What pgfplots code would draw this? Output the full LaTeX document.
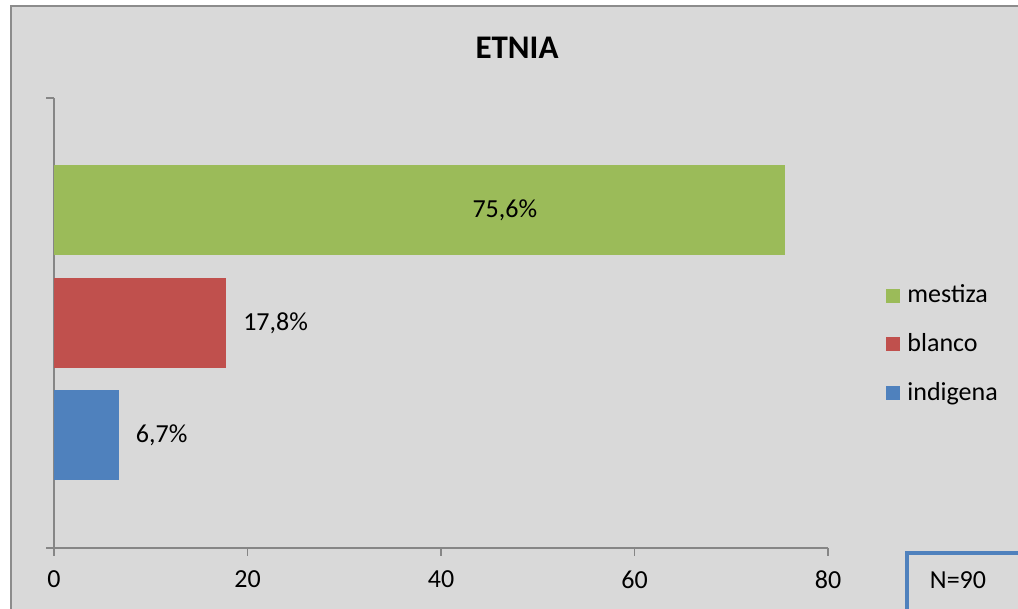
\documentclass[border=0pt]{standalone}
\usepackage{pgfplots}
\pgfplotsset{compat=1.18}
\usepackage{fontspec}
\setmainfont{Carlito}
\definecolor{bg}{HTML}{D9D9D9}
\definecolor{frame}{HTML}{8C8C8C}
\definecolor{axiscol}{HTML}{868686}
\definecolor{mestiza}{HTML}{9BBB59}
\definecolor{blanco}{HTML}{C0504D}
\definecolor{indigena}{HTML}{4F81BD}
\begin{document}
\fontsize{13pt}{15.6pt}\selectfont
% 1 unit = 1 px of the 1018x609 reference, y measured from the bottom
\begin{tikzpicture}[x=0.5pt,y=0.5pt]
\useasboundingbox (0,0) rectangle (1018,609);
\fill[white] (0,0) rectangle (1018,609);
\fill[bg] (11,0) rectangle (1018,603);
\draw[frame, line width=0.8pt] (11,-5) -- (11,603) -- (1025,603);
\node[font=\fontsize{16.5pt}{19pt}\selectfont\bfseries] at (517,561) {ETNIA};
\begin{axis}[
    at={(27pt,30.5pt)}, anchor=south west,
    scale only axis, width=387pt, height=225pt,
    xmin=0, xmax=80, ymin=0, ymax=4,
    axis lines*=left,
    axis line style={-, axiscol, line width=0.8pt},
    tick style={axiscol, line width=0.8pt},
    tick align=outside, major tick length=4pt,
    xtick={0,20,40,60,80},
    ytick={0,4}, yticklabels={},
    /pgf/number format/assume math mode=true,
    xticklabel style={yshift=-3pt},
    xbar, bar width=45pt,
    legend cell align=left,
    legend style={at={(1.075,0.595)}, anchor=north west, draw=none, fill=none,
        inner sep=0pt, row sep=9.5pt,
        nodes={inner sep=2pt}},
    legend image code/.code={\fill[#1] (0pt,-3.5pt) rectangle (7pt,3.5pt);},
    point meta=x,
    every node near coord/.append style={black, xshift=4pt},
]
\addplot[xbar, bar shift=0pt, fill=mestiza, draw=none] coordinates {(75.6,3)};
\addlegendentry{\hspace{1.5pt}mestiza}
\addplot[xbar, bar shift=0pt, fill=blanco, draw=none,
    nodes near coords={\pgfmathprintnumber[fixed,fixed zerofill,precision=1,use comma,assume math mode=true]{\pgfplotspointmeta}\%}]
    coordinates {(17.8,2)};
\addlegendentry{\hspace{1.5pt}blanco}
\addplot[xbar, bar shift=0pt, fill=indigena, draw=none,
    nodes near coords={\pgfmathprintnumber[fixed,fixed zerofill,precision=1,use comma,assume math mode=true]{\pgfplotspointmeta}\%}]
    coordinates {(6.7,1)};
\addlegendentry{\hspace{1.5pt}indigena}
\node at (axis cs:46.6,3) {75,6\%};
\end{axis}
\draw[indigena, line width=2pt] (907,-10) -- (907,56) -- (1030,56);
\node at (958,29) {N=90};
\end{tikzpicture}
\end{document}
